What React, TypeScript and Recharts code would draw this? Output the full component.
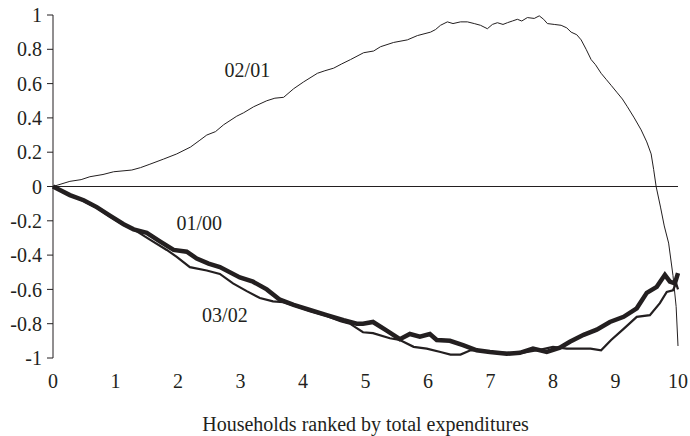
import { LineChart, Line, XAxis, YAxis, ReferenceLine, ReferenceDot } from "recharts"

// cumulative share curves, [household rank, value]
const curve0201: [number, number][] = [
  [0, 0], [0.27, 0.03], [0.45, 0.04], [0.59, 0.057], [0.8, 0.07], [0.97, 0.086], [1.26, 0.096],
  [1.4, 0.11], [1.55, 0.13], [1.77, 0.16], [1.98, 0.19], [2.2, 0.23], [2.35, 0.27], [2.46, 0.3],
  [2.6, 0.32], [2.73, 0.36], [2.94, 0.41], [3.05, 0.43], [3.21, 0.465], [3.42, 0.5], [3.55, 0.515],
  [3.69, 0.52], [3.85, 0.57], [4.01, 0.61], [4.23, 0.66], [4.35, 0.675], [4.49, 0.69],
  [4.62, 0.715], [4.76, 0.74], [4.97, 0.78], [5.13, 0.79], [5.24, 0.815], [5.45, 0.84],
  [5.67, 0.855], [5.83, 0.88], [6.04, 0.9], [6.12, 0.915], [6.2, 0.94], [6.31, 0.96],
  [6.4, 0.95], [6.52, 0.96], [6.63, 0.96], [6.74, 0.95], [6.84, 0.94], [6.95, 0.92],
  [7.03, 0.945], [7.11, 0.955], [7.2, 0.945], [7.27, 0.955], [7.35, 0.965], [7.43, 0.975],
  [7.5, 0.965], [7.59, 0.985], [7.7, 0.98], [7.78, 0.995], [7.85, 0.975], [7.91, 0.95],
  [8.02, 0.945], [8.13, 0.94], [8.22, 0.925], [8.29, 0.9], [8.38, 0.885], [8.45, 0.855],
  [8.53, 0.8], [8.61, 0.74], [8.68, 0.71], [8.77, 0.66], [8.85, 0.625], [8.93, 0.59],
  [9.02, 0.55], [9.11, 0.51], [9.19, 0.465], [9.3, 0.4], [9.41, 0.33], [9.5, 0.26],
  [9.57, 0.19], [9.61, 0.1], [9.65, 0], [9.72, -0.12], [9.78, -0.23], [9.85, -0.33],
  [9.92, -0.52], [9.97, -0.7], [10, -0.93],
]

const curve0100: [number, number][] = [
  [0, 0], [0.27, -0.05], [0.49, -0.08], [0.7, -0.12], [0.91, -0.17], [1.13, -0.22],
  [1.29, -0.25], [1.5, -0.27], [1.71, -0.32], [1.93, -0.37], [2.14, -0.38], [2.3, -0.42],
  [2.49, -0.45], [2.67, -0.47], [2.99, -0.53], [3.2, -0.555], [3.42, -0.6], [3.63, -0.66],
  [3.85, -0.69], [4.11, -0.72], [4.38, -0.75], [4.65, -0.78], [4.86, -0.8], [4.96, -0.8],
  [5.12, -0.79], [5.34, -0.84], [5.55, -0.89], [5.71, -0.86], [5.87, -0.875], [6.03, -0.86],
  [6.14, -0.895], [6.35, -0.9], [6.56, -0.925], [6.78, -0.955], [6.99, -0.965], [7.26, -0.975],
  [7.47, -0.97], [7.68, -0.945], [7.9, -0.965], [8.11, -0.94], [8.27, -0.905], [8.49, -0.865],
  [8.7, -0.835], [8.91, -0.79], [9.13, -0.76], [9.34, -0.71], [9.5, -0.62], [9.66, -0.585],
  [9.79, -0.515], [9.87, -0.555], [9.95, -0.565], [10, -0.505],
]

const curve0302: [number, number][] = [
  [0, 0], [0.27, -0.05], [0.49, -0.085], [0.7, -0.125], [0.91, -0.175], [1.13, -0.225],
  [1.29, -0.25], [1.55, -0.31], [1.82, -0.37], [1.98, -0.41], [2.19, -0.47], [2.46, -0.49],
  [2.67, -0.51], [2.88, -0.565], [3.1, -0.61], [3.31, -0.65], [3.52, -0.67], [3.69, -0.675],
  [3.9, -0.7], [4.11, -0.725], [4.38, -0.755], [4.6, -0.785], [4.75, -0.8], [4.96, -0.85],
  [5.12, -0.855], [5.39, -0.885], [5.55, -0.895], [5.77, -0.935], [5.98, -0.945], [6.2, -0.965],
  [6.36, -0.98], [6.52, -0.98], [6.68, -0.955], [6.78, -0.955], [6.99, -0.965], [7.26, -0.97],
  [7.5, -0.97], [7.75, -0.955], [8.0, -0.935], [8.22, -0.945], [8.39, -0.945], [8.6, -0.945],
  [8.77, -0.955], [8.93, -0.895], [9.13, -0.83], [9.34, -0.76], [9.55, -0.75], [9.71, -0.68],
  [9.82, -0.615], [9.92, -0.605], [9.97, -0.565], [10, -0.6],
]

const xTicks = [0, 1, 2, 3, 4, 5, 6, 7, 8, 9, 10]
const yTicks = [-1, -0.8, -0.6, -0.4, -0.2, 0, 0.2, 0.4, 0.6, 0.8, 1]

// where each curve's name sits
const seriesLabels = [
  { name: "02/01", x: 3.11, y: 0.68 },
  { name: "01/00", x: 2.34, y: -0.215 },
  { name: "03/02", x: 2.75, y: -0.75 },
]

const INK = "#231f20"
const FONT = "'Liberation Serif', 'Times New Roman', serif"

const toPoints = (pts: [number, number][]) => pts.map(([x, y]) => ({ x, y }))

export default function App() {
  const tickStyle = { fill: INK, fontSize: 20, fontFamily: FONT }
  return (
    <div style={{ position: "absolute", left: 0, top: 0, fontFamily: FONT }}>
      <LineChart
        width={690}
        height={436}
        margin={{ top: 15, right: 12, bottom: 0, left: 8 }}
      >
        <XAxis
          type="number"
          dataKey="x"
          domain={[0, 10]}
          ticks={xTicks}
          axisLine={false}
          tickLine={false}
          tickMargin={10}
          height={78}
          tick={tickStyle}
          label={{
            value: "Households ranked by total expenditures",
            position: "insideBottom",
            offset: 5,
            style: { fill: INK, fontSize: 20, fontFamily: FONT },
          }}
        />
        <YAxis
          type="number"
          dataKey="y"
          domain={[-1, 1]}
          ticks={yTicks}
          width={45}
          tickSize={6}
          tickMargin={5}
          stroke={INK}
          tick={tickStyle}
        />
        <ReferenceLine y={0} stroke={INK} strokeWidth={1} />
        <Line
          data={toPoints(curve0201)}
          dataKey="y"
          stroke={INK}
          strokeWidth={1}
          dot={false}
          isAnimationActive={false}
        />
        <Line
          data={toPoints(curve0302)}
          dataKey="y"
          stroke={INK}
          strokeWidth={2.2}
          dot={false}
          isAnimationActive={false}
        />
        <Line
          data={toPoints(curve0100)}
          dataKey="y"
          stroke={INK}
          strokeWidth={4.5}
          dot={false}
          isAnimationActive={false}
        />
        {seriesLabels.map((s) => (
          <ReferenceDot
            key={s.name}
            x={s.x}
            y={s.y}
            r={0}
            fill="none"
            stroke="none"
            label={{
              value: s.name,
              position: "center",
              style: { fill: INK, fontSize: 20, fontFamily: FONT },
            }}
          />
        ))}
      </LineChart>
    </div>
  )
}
